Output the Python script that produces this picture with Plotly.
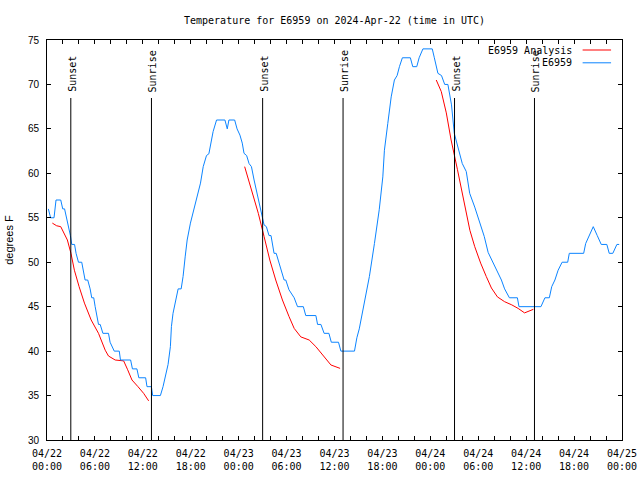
import pandas as pd
import plotly.graph_objects as go

# ---------------- data ----------------
base = pd.Timestamp("2024-04-22 00:00")

obs_hours = [0.17, 0.45, 0.88, 1.13, 1.72, 1.97, 2.2, 2.45, 2.93, 3.1, 3.45, 3.64, 3.94, 4.35, 4.56, 4.77,
             5.1, 5.4, 5.6, 5.85, 6.03, 6.45, 6.66, 7.0, 7.7, 7.9, 8.42, 9.05, 9.2, 10.47, 10.7, 11.26,
             11.5, 12.35, 12.52, 13.07, 13.23, 14.2, 14.53, 14.95, 15.16, 15.45, 15.58, 15.78, 16.08,
             16.42, 16.8, 17.04, 17.3, 17.55, 17.96, 18.47, 19.0, 19.22, 19.56, 19.97, 20.27, 20.5, 20.8,
             21.23, 22.28, 22.57, 22.78, 23.5, 23.8, 24.16, 24.45, 24.67, 25.0, 25.3, 25.6, 25.93, 26.2,
             26.55, 26.88, 27.18, 27.47, 27.8, 28.05, 28.43, 28.7, 29.06, 29.69, 29.9, 30.3, 30.95, 31.37,
             32.1, 32.4, 33.67, 33.88, 34.3, 34.7, 35.3, 35.6, 36.5, 36.8, 38.5, 38.8, 39.1, 39.74, 40.37,
             41.0, 41.6, 42.05, 42.25, 42.67, 43.1, 43.5, 43.84, 44.13, 44.5, 45.5, 45.8, 46.3, 46.6, 47.07,
             48.24, 48.5, 48.95, 49.4, 49.8, 50.2, 50.65, 51.0, 51.4, 52.0, 52.5, 52.93, 53.56, 54.3, 54.75,
             55.24, 55.87, 56.4, 56.9, 57.3, 57.9, 58.9, 59.1, 61.85, 62.35, 62.9, 63.2, 63.6, 64.0, 64.5,
             65.2, 65.4, 67.2, 67.45, 67.9, 68.4, 68.9, 69.4, 70.1, 70.4, 70.85, 71.36, 71.65]
obs_temp = [56, 55, 55, 57, 57, 56, 56, 55, 53, 52, 52, 51, 50, 50, 49, 48,
            48, 47, 46, 46, 45, 43, 43, 42, 42, 41, 40, 40, 39, 39, 38, 38,
            37, 37, 36, 36, 35, 35, 36, 37.7, 38.5, 40.5, 42.75, 44.25, 45.4,
            47, 47, 48.4, 50.6, 52.5, 54.4, 56.25, 58.1, 58.9, 60.75, 62, 62.2, 63.4, 64.7,
            66, 66, 65, 66, 66, 65, 64.3, 63.4, 62.25, 62, 61.1, 60.75, 59.25, 58.1,
            56.6, 55.3, 54.2, 54, 53, 53, 51, 51, 49.9, 48, 48, 46.9, 46, 45,
            45, 44, 44, 43, 43, 42, 42, 41, 41, 40, 40, 41.5, 42.5, 45.4, 48.4,
            52.1, 55.9, 59.6, 62.6, 65.6, 68.6, 70.5, 71, 72, 73, 73, 72, 72, 73, 74,
            74, 73, 71.25, 71, 70, 70, 67.7, 64.5, 63.2, 61.1, 60.2, 57.75, 56.2, 54, 52.9,
            51.1, 49.9, 48.9, 48, 47, 46, 46, 45, 45, 46, 46, 47.25, 48, 49.1, 50,
            50, 51, 51, 52.1, 53, 54, 53, 52, 52, 51, 51, 52, 52]

ana_hours = [0.67, 1.21, 1.72, 2.05, 2.55, 3.0, 3.43, 4.02, 4.69, 5.53, 6.45, 7.29, 7.7, 8.54, 9.6,
             10.1, 10.64, 11.39, 12.1, 12.73, None,
             24.75, 25.7, 26.46, 27.18, 27.9, 28.64, 29.48, 30.3, 30.95, 31.78, 32.83, 33.67, 34.7,
             35.55, 36.7, None,
             48.74, 49.37, 50.0, 50.6, 51.4, 52.3, 52.95, 53.56, 54.3, 55.0, 55.65, 56.4, 57.3, 58.2,
             59.0, 59.8, 60.47, 60.9]
ana_temp = [54.4, 54.1, 54.0, 53.4, 52.5, 51.0, 49.1, 47.25, 45.4, 43.5, 42.0, 40.1, 39.45, 39.0, 38.9,
            37.9, 36.75, 36.0, 35.25, 34.4, None,
            60.75, 57.75, 55.5, 52.9, 50.25, 48.0, 45.75, 43.9, 42.56, 41.6, 41.25, 40.5, 39.4,
            38.44, 38.06, None,
            70.5, 69.2, 66.8, 63.75, 60.4, 56.4, 53.6, 51.75, 49.9, 48.4, 47.1, 46.1, 45.56, 45.2,
            44.8, 44.3, 44.6, 44.7]

event_hours = [2.98, 13.08, 27.0, 37.07, 51.03, 61.04]
event_labels = ["Sunset", "Sunrise", "Sunset", "Sunrise", "Sunset", "Sunrise"]

tick_hours = list(range(0, 73, 2))
tick_labels = {0: "04/22<br>00:00", 6: "04/22<br>06:00", 12: "04/22<br>12:00", 18: "04/22<br>18:00",
               24: "04/23<br>00:00", 30: "04/23<br>06:00", 36: "04/23<br>12:00", 42: "04/23<br>18:00",
               48: "04/24<br>00:00", 54: "04/24<br>06:00", 60: "04/24<br>12:00", 66: "04/24<br>18:00",
               72: "04/25<br>00:00"}

legend_names = ["E6959 Analysis", "E6959"]
colors = ["#ff0000", "#0b84ff"]


def to_time(hours):
    return [None if h is None else base + pd.Timedelta(hours=h) for h in hours]


MONO = "DejaVu Sans Mono"
SANS = "Liberation Sans"

fig = go.Figure()
fig.add_trace(go.Scatter(x=to_time(ana_hours), y=ana_temp, mode="lines", name=legend_names[0],
                         line=dict(color=colors[0], width=1), connectgaps=False))
fig.add_trace(go.Scatter(x=to_time(obs_hours), y=obs_temp, mode="lines", name=legend_names[1],
                         line=dict(color=colors[1], width=1)))

# sunrise / sunset markers
for h, lab in zip(event_hours, event_labels):
    t = base + pd.Timedelta(hours=h)
    fig.add_shape(type="line", xref="x", yref="paper", x0=t, x1=t, y0=0, y1=0.855,
                  line=dict(color="black", width=1))
    fig.add_annotation(x=t, y=0.87, xref="x", yref="paper", text=lab, showarrow=False,
                       textangle=-90, xanchor="center", yanchor="bottom", xshift=1, yshift=-2,
                       font=dict(family=MONO, size=10, color="black"))

# gnuplot-style key (text left of the line sample)
for i, (name, col) in enumerate(zip(legend_names, colors)):
    yy = 0.975 - i * 0.032
    fig.add_annotation(x=0.9164, y=yy, xref="paper", yref="paper", text=name, showarrow=False,
                       xanchor="right", yanchor="middle",
                       font=dict(family=MONO, size=10, color="black"))
    fig.add_shape(type="line", xref="paper", yref="paper", x0=0.9315, x1=0.981, y0=yy, y1=yy,
                  line=dict(color=col, width=1))

fig.update_layout(
    width=640, height=480,
    margin=dict(l=47, r=18, t=40, b=40, autoexpand=False),
    paper_bgcolor="white", plot_bgcolor="white",
    showlegend=False,
    title=dict(text="Temperature for E6959 on 2024-Apr-22 (time in UTC)", x=0.5, xref="paper",
               xanchor="center", y=1 - 20 / 480, yanchor="middle",
               font=dict(family=MONO, size=10, color="black")),
)
fig.update_xaxes(
    range=[base, base + pd.Timedelta(hours=72)],
    automargin=False,
    tickmode="array",
    tickvals=[base + pd.Timedelta(hours=h) for h in tick_hours],
    ticktext=[tick_labels.get(h, "") for h in tick_hours],
    ticks="inside", ticklen=4, tickcolor="black", mirror="allticks",
    showline=True, linecolor="black", linewidth=1, showgrid=False, zeroline=False,
    tickfont=dict(family=MONO, size=10, color="black"),
    ticklabelstandoff=4,
)
fig.update_yaxes(
    range=[30, 75], dtick=5, tick0=30,
    automargin=False,
    ticks="inside", ticklen=4, tickcolor="black", mirror="allticks",
    showline=True, linecolor="black", linewidth=1, showgrid=False, zeroline=False,
    tickfont=dict(family=SANS, size=10, color="black"),
    ticklabelstandoff=5,
    title=dict(text="degrees F", font=dict(family=SANS, size=11, color="black"), standoff=12),
)

fig.write_html("out.html")
